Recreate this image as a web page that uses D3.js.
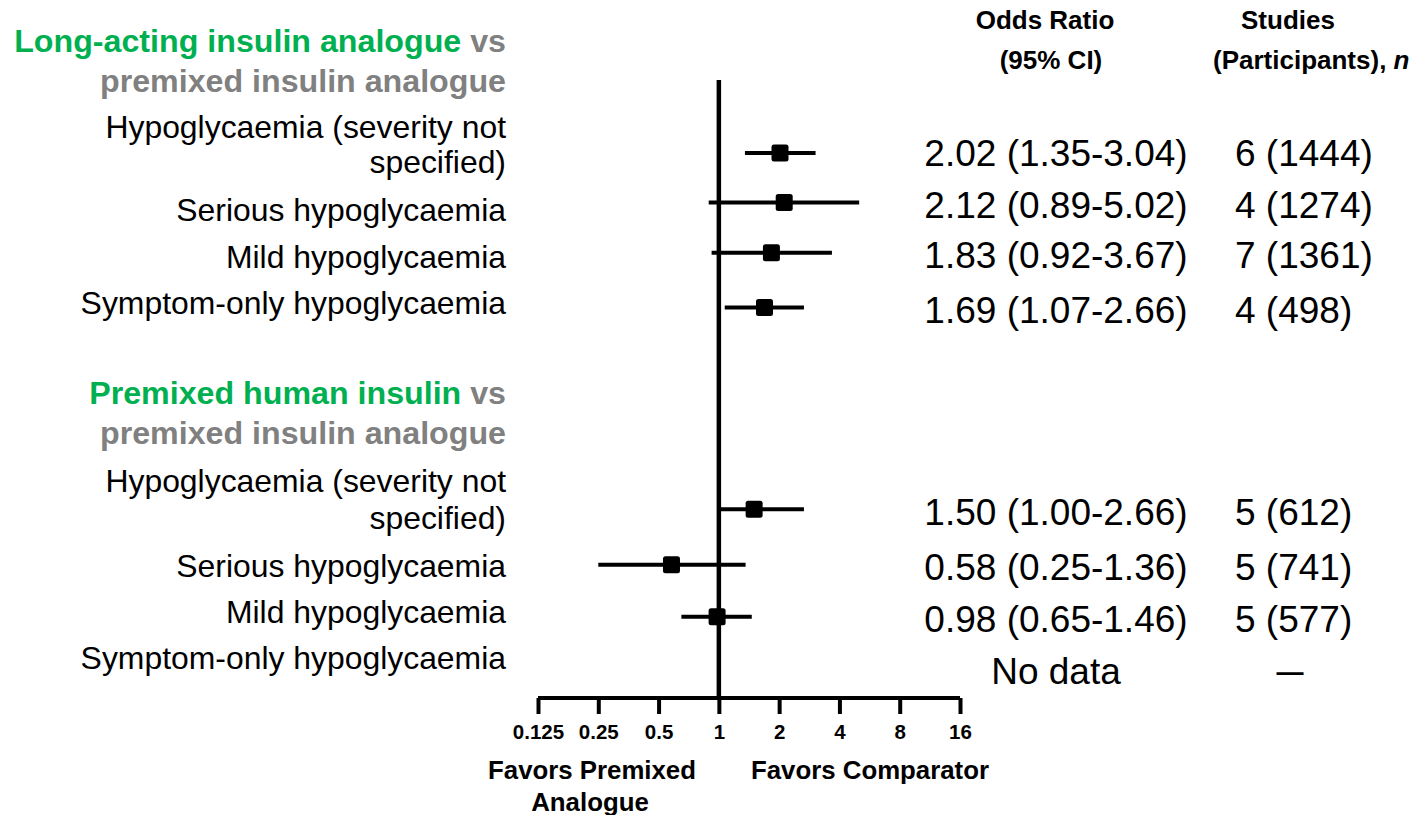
<!DOCTYPE html>
<html>
<head>
<meta charset="utf-8">
<script src="https://cdn.jsdelivr.net/npm/d3@7"></script>
<style>
  html, body { margin: 0; padding: 0; background: #fff; }
  svg { display: block; font-family: Arial, "Liberation Sans", sans-serif; }
</style>
</head>
<body>
<svg id="chart" width="1421" height="815"></svg>
<script>
// ---------------- DATA ----------------
const groupTitleGreen = ["Long-acting insulin analogue", "Premixed human insulin"];
const groupTitleGray = ["premixed insulin analogue", "premixed insulin analogue"];
const outcomeLabels = [
  ["Hypoglycaemia (severity not", "specified)"],
  ["Serious hypoglycaemia"],
  ["Mild hypoglycaemia"],
  ["Symptom-only hypoglycaemia"],
  ["Hypoglycaemia (severity not", "specified)"],
  ["Serious hypoglycaemia"],
  ["Mild hypoglycaemia"],
  ["Symptom-only hypoglycaemia"]
];
const oddsRatio = [2.02, 2.12, 1.83, 1.69, 1.50, 0.58, 0.98, null];
const ciLower   = [1.35, 0.89, 0.92, 1.07, 1.00, 0.25, 0.65, null];
const ciUpper   = [3.04, 5.02, 3.67, 2.66, 2.66, 1.36, 1.46, null];
const orText = ["2.02 (1.35-3.04)", "2.12 (0.89-5.02)", "1.83 (0.92-3.67)", "1.69 (1.07-2.66)",
                "1.50 (1.00-2.66)", "0.58 (0.25-1.36)", "0.98 (0.65-1.46)", "No data"];
const studiesText = ["6 (1444)", "4 (1274)", "7 (1361)", "4 (498)", "5 (612)", "5 (741)", "5 (577)", "\u2014"];
const tickValues = [0.125, 0.25, 0.5, 1, 2, 4, 8, 16];
const tickLabels = ["0.125", "0.25", "0.5", "1", "2", "4", "8", "16"];

// ---------------- LAYOUT ----------------
const GREEN = "#00b050", GRAY = "#808080";
const rowSlot = [0, 0.95, 1.92, 2.97, 6.85, 7.92, 8.92, 9.92];      // mark rows (in row units)
const labelSlot = [[-0.5, 0.17], [1.1], [2.0], [2.88], [6.3, 7.01], [7.95], [8.83], [9.72]];
const titleSlot = [[-2.17, -1.4], [4.6, 5.37]];
const y = d3.scaleLinear().domain([0, 1]).range([153, 205]);
const x = d3.scaleLog().base(2).domain([0.125, 16]).range([538, 960]);
const axisY = 698;

const svg = d3.select("#chart");

// group titles
titleSlot.forEach((ts, g) => {
  const t1 = svg.append("text").attr("x", 506).attr("y", y(ts[0]) + 11.5)
    .attr("text-anchor", "end").attr("font-size", 32.2).attr("font-weight", "bold");
  t1.append("tspan").attr("fill", GREEN).text(groupTitleGreen[g]);
  t1.append("tspan").attr("fill", GRAY).text(" vs");
  svg.append("text").attr("x", 506).attr("y", y(ts[1]) + 11.5)
    .attr("text-anchor", "end").attr("font-size", 32.2).attr("font-weight", "bold")
    .attr("fill", GRAY).text(groupTitleGray[g]);
});

// outcome labels
outcomeLabels.forEach((lines, i) => {
  lines.forEach((ln, j) => {
    svg.append("text").attr("x", 506).attr("y", y(labelSlot[i][j]) + 11)
      .attr("text-anchor", "end").attr("font-size", 31.9).attr("fill", "#000").text(ln);
  });
});

// column headers
const hdr = [
  {x: 1045, y: 29, t: "Odds Ratio"},
  {x: 1051, y: 69, t: "(95% CI)"},
  {x: 1288, y: 29, t: "Studies"}
];
hdr.forEach(h => svg.append("text").attr("x", h.x).attr("y", h.y).attr("text-anchor", "middle")
  .attr("font-size", 26).attr("font-weight", "bold").text(h.t));
const ph = svg.append("text").attr("x", 1213).attr("y", 69).attr("font-size", 26).attr("font-weight", "bold");
ph.append("tspan").text("(Participants), ");
ph.append("tspan").attr("font-style", "italic").text("n");

// value columns
orText.forEach((t, i) => {
  svg.append("text").attr("x", 1056).attr("y", y(rowSlot[i] + (i === 0 ? 0 : 0.05)) + 13)
    .attr("text-anchor", "middle").attr("font-size", 37).text(t);
});
studiesText.forEach((t, i) => {
  if (t === "\u2014") {
    svg.append("text").attr("x", 1290).attr("y", y(rowSlot[i]) + 12)
      .attr("text-anchor", "middle").attr("font-size", 27).attr("font-weight", "bold").text(t);
  } else {
    svg.append("text").attr("x", 1235).attr("y", y(rowSlot[i] + (i === 0 ? 0 : 0.05)) + 13)
      .attr("font-size", 37).text(t);
  }
});

// reference line at OR = 1
svg.append("line").attr("x1", x(1)).attr("x2", x(1)).attr("y1", 80).attr("y2", axisY)
  .attr("stroke", "#000").attr("stroke-width", 4.5);

// CI lines & squares
const rows = oddsRatio.map((v, i) => ({or: v, lo: ciLower[i], hi: ciUpper[i], slot: rowSlot[i]}))
  .filter(d => d.or != null);
svg.selectAll("line.ci").data(rows).enter().append("line").attr("class", "ci")
  .attr("x1", d => x(d.lo)).attr("x2", d => x(d.hi))
  .attr("y1", d => y(d.slot)).attr("y2", d => y(d.slot))
  .attr("stroke", "#000").attr("stroke-width", 4);
svg.selectAll("rect.pt").data(rows).enter().append("rect").attr("class", "pt")
  .attr("x", d => x(d.or) - 8.5).attr("y", d => y(d.slot) - 8.5)
  .attr("width", 17).attr("height", 17).attr("rx", 2.5).attr("fill", "#000");

// x axis
const axis = d3.axisBottom(x).tickValues(tickValues)
  .tickFormat((d, i) => tickLabels[i]).tickSize(16).tickPadding(10);
const ax = svg.append("g").attr("transform", `translate(0,${axisY})`).call(axis);
ax.select(".domain").attr("d", `M${x(0.125)},0H${x(16)}`).attr("stroke", "#000").attr("stroke-width", 4);
ax.selectAll(".tick line").attr("stroke", "#000").attr("stroke-width", 4);
ax.selectAll(".tick text").attr("font-size", 20.5).attr("font-weight", "bold")
  .attr("font-family", "Arial, 'Liberation Sans', sans-serif").attr("fill", "#000");

// axis captions
const caps = [
  {x: 592, y: 779, t: "Favors Premixed"},
  {x: 590, y: 811, t: "Analogue"},
  {x: 870, y: 779, t: "Favors Comparator"}
];
caps.forEach(c => svg.append("text").attr("x", c.x).attr("y", c.y).attr("text-anchor", "middle")
  .attr("font-size", 25.8).attr("font-weight", "bold").text(c.t));
</script>
</body>
</html>
